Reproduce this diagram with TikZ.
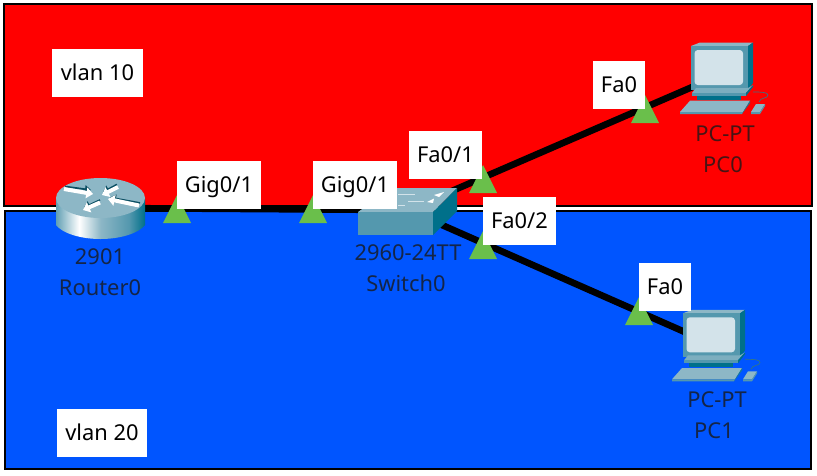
\documentclass[tikz,border=0pt]{standalone}
\usepackage{fontspec}
\setmainfont{Noto Sans}
\usetikzlibrary{arrows.meta}
\definecolor{vred}{HTML}{FF0000}
\definecolor{vblue}{HTML}{0055FF}
\definecolor{portgreen}{HTML}{6ABF4B}
\definecolor{devtop}{HTML}{8DB7C6}
\definecolor{devfront}{HTML}{5498AE}
\definecolor{devside}{HTML}{00708A}
\definecolor{devscreen}{HTML}{D3E3EA}
\definecolor{devdark}{HTML}{0B4F63}
\pgfdeclarehorizontalshading{routerside}{100bp}{
  color(0bp)=(devfront!70!white);
  color(25bp)=(devfront!75!devtop);
  color(38bp)=(white);
  color(50bp)=(devtop);
  color(66bp)=(devfront);
  color(75bp)=(devside);
  color(100bp)=(devside)}
\tikzset{
  zone/.style={draw=black,line width=1.5pt},
  link/.style={draw=black,line width=5pt},
  lbl/.style={fill=white,inner sep=0pt,minimum height=36pt,text=black,font=\fontsize{16.4pt}{18pt}\selectfont,text height=14pt,text depth=3.1pt},
  devlbl/.style={inner sep=0pt,text=black!90,text opacity=.8,font=\fontsize{16.4pt}{18pt}\selectfont,text height=14pt,text depth=3.1pt},
  port/.style={fill=portgreen,draw=none},
  rarrow/.style={white,line width=3pt,-{Triangle[length=5pt,width=8pt]}},
  rshadow/.style={devdark,line width=1.3pt,-{Triangle[length=4.5pt,width=6pt]}},
  pics/pcicon/.style={code={
    \fill[devtop] (691,46)--(700,42.5)--(753,42.5)--(748,46)--cycle;
    \fill[devside] (748,46)--(753,42.5)--(753,83)--(748,90)--cycle;
    \fill[devfront] (691,46) rectangle (748,90);
    \fill[devscreen,rounded corners=2.5pt] (694.5,50) rectangle (743,85);
    \fill[devside] (697,93) rectangle (741,100);
    \fill[devtop!70!devfront] (696,88)--(748,88)--(753,85)--(746,93)--(692,93)--cycle;
    \fill[devside] (746,93)--(753,85)--(753,87)--(746,96)--cycle;
    \fill[devfront] (692,93) rectangle (746,96);
    \fill[devtop] (690,100.7)--(750,100.7)--(743,112)--(680,112)--cycle;
    \fill[devfront] (680,112)--(743,112)--(742,114)--(680,114)--cycle;
    \fill[devside!70!devfront] (743,112)--(750,100.7)--(750,103)--(742,114)--cycle;
    \fill[devtop] (756,104)--(765,104)--(760,112)--(751,112)--cycle;
    \fill[devfront] (751,112)--(760,112)--(765,104)--(765,106)--(760,114)--(751,114)--cycle;
    \draw[devside!60!gray,line width=.5pt] (759,102) .. controls (760,97) and (768,99) .. (768,95) .. controls (768,92) and (760,92) .. (753,92);
  }}
}
\begin{document}
\begin{tikzpicture}[x=.75pt,y=-.75pt]
\useasboundingbox (0,0) rectangle (817,475);
% vlan zones
\path[zone,fill=vred] (4,4) rectangle (812,206);
\path[zone,fill=vblue] (5,211) rectangle (811,469);
% device anchors
\coordinate (router) at (100,208);
\coordinate (switch) at (408,210);
\coordinate (pc0) at (720,75);
\coordinate (pc1) at (712,344);
% links
\draw[link] (router) -- (switch);
\draw[link] (switch) -- (pc0);
\draw[link] (switch) -- (pc1);
% router icon
\shade[shading=routerside] (56,198) -- (56,225) .. controls (62,233) and (80,239) .. (100.5,239) .. controls (121,239) and (139,233) .. (145,225) -- (145,198) -- cycle;
\fill[devtop] (100.5,198) ellipse [x radius=44.5,y radius=20];
\draw[rshadow] (65,186.5) -- (91,190);
\draw[rarrow] (64,189) -- (93,194);
\draw[rshadow] (117,184.5) -- (103,192);
\draw[rarrow] (118,187) -- (102,195);
\draw[rshadow] (140,203) -- (110,197.5);
\draw[rarrow] (139,205.5) -- (108,199);
\draw[rshadow] (100,200) -- (84,207.5);
\draw[rarrow] (100,202.5) -- (83,210);
% switch icon
\fill[devtop] (358,212)--(392,188)--(457,188)--(433,212)--cycle;
\fill[devfront] (358,212) rectangle (433,235);
\fill[devside] (433,212)--(457,188)--(457,211)--(433,235)--cycle;
\draw[devscreen,line width=.5pt] (398,194)--(415,194) (408,201.5)--(424,201.5) (398,205)--(405,205);
\fill[white] (434,195)--(444,192)--(439,197)--cycle;
\fill[white] (427,202)--(434,198.5)--(433,203)--cycle;
% PC icons
\pic {pcicon};
\pic[shift={(-8,267.3)}] {pcicon};
% port triangles
\fill[port] (163,223)--(191,223)--(177,195)--cycle;
\fill[port] (299,223)--(327,223)--(313,195)--cycle;
\fill[port] (469,193)--(497,193)--(483,165)--cycle;
\fill[port] (469,259)--(497,259)--(483,231)--cycle;
\fill[port] (631,123)--(659,123)--(645,95)--cycle;
\fill[port] (625,325)--(653,325)--(639,297)--cycle;
% labels
\node[lbl,minimum width=68.25pt] (v10) at (97.5,73) {vlan 10};
\node[lbl,minimum width=67.5pt] (v20) at (102,433) {vlan 20};
\node[lbl,minimum width=63pt] (g1) at (219,185) {Gig0/1};
\node[lbl,minimum width=63pt] (g2) at (355,185) {Gig0/1};
\node[lbl,minimum width=54.75pt] (f1) at (445.5,155) {Fa0/1};
\node[lbl,minimum width=54.75pt] (f2) at (519.5,221) {Fa0/2};
\node[lbl,minimum width=39pt] (f3) at (619,85) {Fa0};
\node[lbl,minimum width=39pt] (f4) at (665,287) {Fa0};
% device labels
\node[devlbl] (rm) at (100,257) {2901};
\node[devlbl] (rn) at (100,288) {Router0};
\node[devlbl] (sm) at (408,253) {2960-24TT};
\node[devlbl] (sn) at (406,284) {Switch0};
\node[devlbl] (pm0) at (725,134) {PC-PT};
\node[devlbl] (pn0) at (723,165) {PC0};
\node[devlbl] (pm1) at (717,400) {PC-PT};
\node[devlbl] (pn1) at (714,431) {PC1};
\end{tikzpicture}
\end{document}
